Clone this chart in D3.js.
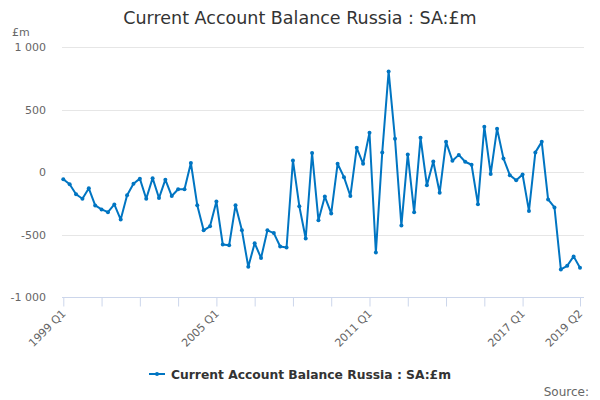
<!DOCTYPE html>
<html>
<head>
<meta charset="utf-8">
<script src="https://cdn.jsdelivr.net/npm/d3@7"></script>
<style>
  body { margin: 0; background: #fff; }
  text { font-family: "DejaVu Sans", sans-serif; }
</style>
</head>
<body>
<svg id="chart" width="600" height="400"></svg>
<script>
var title = 'Current Account Balance Russia : SA:£m';
var seriesName = 'Current Account Balance Russia : SA:£m';

var quarters = [];
for (var yr = 1999; yr <= 2019; yr++) {
    for (var q = 1; q <= 4; q++) {
        if (yr === 2019 && q > 2) break;
        quarters.push(yr + ' Q' + q);
    }
}

var values = [
    -56, -97, -177, -213, -129, -266, -298, -320, -258, -379,
    -185, -92, -52, -213, -48, -207, -60, -191, -137, -137,
    73, -264, -465, -433, -234, -578, -584, -264, -465, -756,
    -568, -686, -465, -487, -594, -602, 94, -272, -530, 153,
    -385, -195, -330, 67, -40, -191, 194, 67, 315, -643,
    158, 805, 266, -427, 142, -320, 274, -105, 85, -165,
    242, 91, 138, 83, 59, -256, 363, -14, 347, 110,
    -24, -65, -19, -310, 158, 242, -218, -282, -777, -748,
    -673, -764
];

var yTicks = [-1000, -500, 0, 500, 1000];
var tickQuarters = ['1999 Q1', '2000 Q3', '2002 Q1', '2003 Q3', '2005 Q1', '2006 Q3', '2008 Q1',
    '2009 Q3', '2011 Q1', '2012 Q3', '2014 Q1', '2015 Q3', '2017 Q1', '2019 Q2'];
var tickLabels = ['1999 Q1', '2005 Q1', '2011 Q1', '2017 Q1', '2019 Q2'];

var svg = d3.select('#chart');

var x = d3.scalePoint().domain(quarters).range([63.3, 580]);
var y = d3.scaleLinear().domain([-1000, 1000]).range([297.3, 47]);

var fmt = function(d) { return d3.format(',')(d).replace(/,/g, ' ').replace('−', '-'); };

// title
svg.append('text')
    .attr('x', 300).attr('y', 24)
    .attr('text-anchor', 'middle')
    .style('font-size', '17.5px')
    .style('fill', '#333')
    .text(title);

svg.append('text')
    .attr('x', 12).attr('y', 36)
    .style('font-size', '11px')
    .style('fill', '#666')
    .text('£m');

// grid
svg.append('g').selectAll('line')
    .data(yTicks.filter(function(d) { return d !== -1000; }))
    .enter().append('line')
    .attr('x1', 62).attr('x2', 584)
    .attr('y1', function(d) { return Math.round(y(d)) + 0.5; })
    .attr('y2', function(d) { return Math.round(y(d)) + 0.5; })
    .attr('stroke', '#e6e6e6');

svg.append('g').selectAll('text')
    .data(yTicks)
    .enter().append('text')
    .attr('x', 46)
    .attr('y', function(d) { return y(d) + 4; })
    .attr('text-anchor', 'end')
    .style('font-size', '11px')
    .style('fill', '#666')
    .text(fmt);

// x axis
var xAxis = d3.axisBottom(x)
    .tickValues(tickQuarters)
    .tickSize(9)
    .tickFormat(function(d) { return tickLabels.indexOf(d) >= 0 ? d : ''; });

var gx = svg.append('g')
    .attr('transform', 'translate(0,' + (Math.round(y(-1000)) + 0.5) + ')')
    .call(xAxis);
gx.select('.domain').attr('d', 'M62,0H584').attr('stroke', '#ccd6eb');
gx.selectAll('.tick line').attr('stroke', '#ccd6eb');
gx.selectAll('.tick text')
    .attr('text-anchor', 'end')
    .attr('transform', 'translate(0,14) rotate(-45)')
    .attr('dy', '0.35em')
    .attr('y', 0)
    .style('font-size', '11px')
    .style('fill', '#666')
    .style('font-family', '"DejaVu Sans", sans-serif');

// line
var line = d3.line()
    .x(function(d, i) { return x(quarters[i]); })
    .y(function(d) { return y(d); });

svg.append('path')
    .datum(values)
    .attr('d', line)
    .attr('fill', 'none')
    .attr('stroke', '#0075c2')
    .attr('stroke-width', 2)
    .attr('stroke-linejoin', 'round');

svg.append('g').selectAll('circle')
    .data(values)
    .enter().append('circle')
    .attr('cx', function(d, i) { return x(quarters[i]); })
    .attr('cy', function(d) { return y(d); })
    .attr('r', 2)
    .attr('fill', '#0075c2');

// legend
var lg = svg.append('g').attr('transform', 'translate(149,374)');
lg.append('line').attr('x1', 0).attr('x2', 16).attr('y1', 0).attr('y2', 0)
    .attr('stroke', '#0075c2').attr('stroke-width', 2);
lg.append('circle').attr('cx', 8).attr('cy', 0).attr('r', 2).attr('fill', '#0075c2');
lg.append('text')
    .attr('x', 22).attr('y', 4.5)
    .style('font-size', '12.3px')
    .style('font-weight', 'bold')
    .style('fill', '#333')
    .text(seriesName);

svg.append('text')
    .attr('x', 589).attr('y', 396)
    .attr('text-anchor', 'end')
    .style('font-size', '12px')
    .style('fill', '#666')
    .text('Source:');
</script>
</body>
</html>
